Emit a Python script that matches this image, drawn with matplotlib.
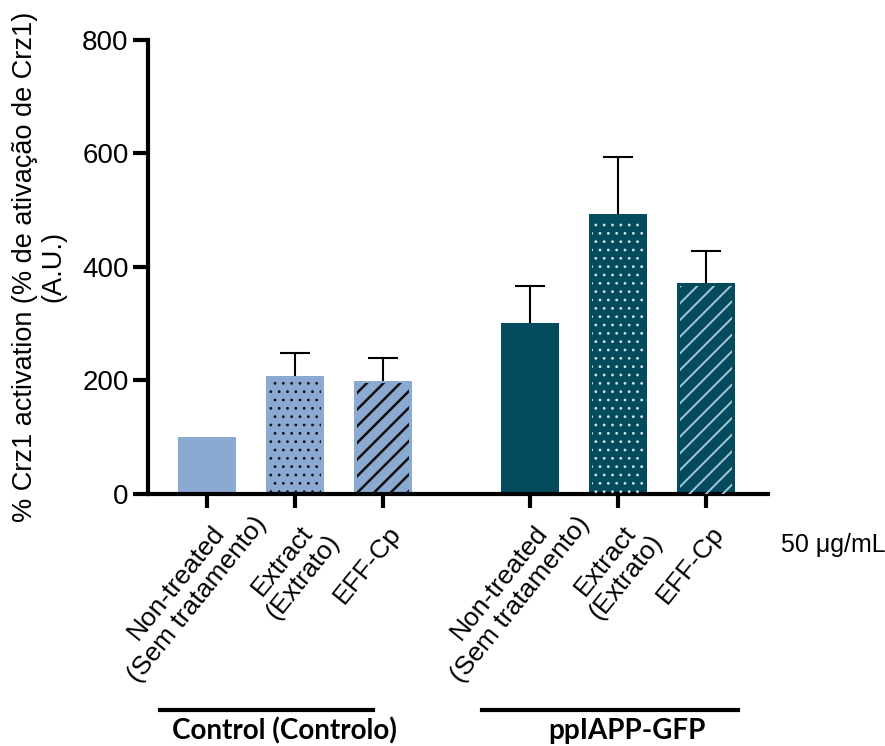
import math

import matplotlib
matplotlib.use("Agg")
import matplotlib.pyplot as plt
import matplotlib.transforms as mtransforms

# data
labels = [
    "Non-treated\n(Sem tratamento)", "Extract\n(Extrato)", "EFF-Cp",
    "Non-treated\n(Sem tratamento)", "Extract\n(Extrato)", "EFF-Cp",
]
groups = ["Control (Controlo)", "ppIAPP-GFP"]
values = [100, 208, 199, 301, 493, 372]
errors = [0, 40, 40, 65, 100, 56]
positions = [0, 1, 2, 3.67, 4.67, 5.67]

LIGHT = "#8BAAD2"
DARK = "#034B5D"
face = [LIGHT] * 3 + [DARK] * 3
hatches = [None, "..", "//", None, "..", "//"]
hatch_col = [None, "#111111", "#111111", None, "#D0E1EA", "#A3C6DC"]
hatch_lw = [0, 0.8, 1.8, 0, 0.8, 1.4]

plt.rcParams.update({"font.family": ["Liberation Sans", "DejaVu Sans"]})

fig = plt.figure(figsize=(8.85, 7.46), dpi=100)
ax = fig.add_axes([0.1672, 0.3378, 0.7006, 0.6086])

ax.bar(positions, values, width=0.66, color=face, linewidth=0, zorder=2)
for x, v, h, hc, hl in zip(positions, values, hatches, hatch_col, hatch_lw):
    if h:
        with plt.rc_context({"hatch.linewidth": hl}):
            ax.bar(x, v * 0.985, width=0.6, bottom=0, color="none", edgecolor=hc,
                   hatch=h, linewidth=0, zorder=3)
for x, v, e in zip(positions, values, errors):
    if e > 0:
        ax.errorbar(x, v, yerr=e, fmt="none", ecolor="black", elinewidth=1.5,
                    capsize=10.5, capthick=1.5, zorder=1)

ax.set_xlim(-0.67, 6.375)
ax.set_ylim(0, 800)
ax.set_yticks([0, 200, 400, 600, 800])
ax.set_xticks(positions)
ax.set_xticklabels([])
ax.tick_params(axis="x", length=10, width=3)
ax.tick_params(axis="y", length=11, width=3, labelsize=20, pad=3)
for s in ["top", "right"]:
    ax.spines[s].set_visible(False)
for s in ["left", "bottom"]:
    ax.spines[s].set_linewidth(3)
ax.set_ylabel("% Crz1 activation (% de ativação de Crz1)\n(A.U.)", fontsize=19.5,
              labelpad=11, linespacing=1.15)

# rotated category labels: first line ends at the tick, lines centred on each other
LABEL_FS = 19
ANGLE = 51
renderer = fig.canvas.get_renderer()


def text_width(s):
    t = fig.text(0, 0, s, fontsize=LABEL_FS)
    w = t.get_window_extent(renderer).width
    t.remove()
    return w


trans = mtransforms.blended_transform_factory(ax.transData, ax.transAxes)
px2pt = 72 / fig.dpi
for x, lab in zip(positions, labels):
    lines = lab.split("\n")
    widths = [text_width(l) for l in lines]
    d = (max(widths) - widths[0]) / 2
    dx = 4 + d * math.cos(math.radians(ANGLE))
    dy = -27 + d * math.sin(math.radians(ANGLE))
    ax.annotate(lab, xy=(x, 0), xycoords=trans, xytext=(dx * px2pt, dy * px2pt),
                textcoords="offset points", rotation=ANGLE, rotation_mode="anchor",
                ha="right", va="top", multialignment="center", fontsize=LABEL_FS,
                linespacing=1.15, annotation_clip=False)

# group brackets under the labels
spans = [(positions[0] - 0.53, positions[2] - 0.11), (positions[3] - 0.55, positions[5] + 0.36)]
for (x0, x1), name in zip(spans, groups):
    ax.plot([x0, x1], [-0.476, -0.476], color="black", lw=3, transform=trans, clip_on=False)
    ax.text((x0 + x1) / 2 + 0.2, -0.522, name, transform=trans, ha="center", va="center",
            fontsize=20, fontweight="bold", family=["Lato", "DejaVu Sans"])

fig.text(0.883, 0.27, "50 \u03bcg/mL", fontsize=18, ha="left", va="center")

fig.savefig("out.png", dpi=100)
